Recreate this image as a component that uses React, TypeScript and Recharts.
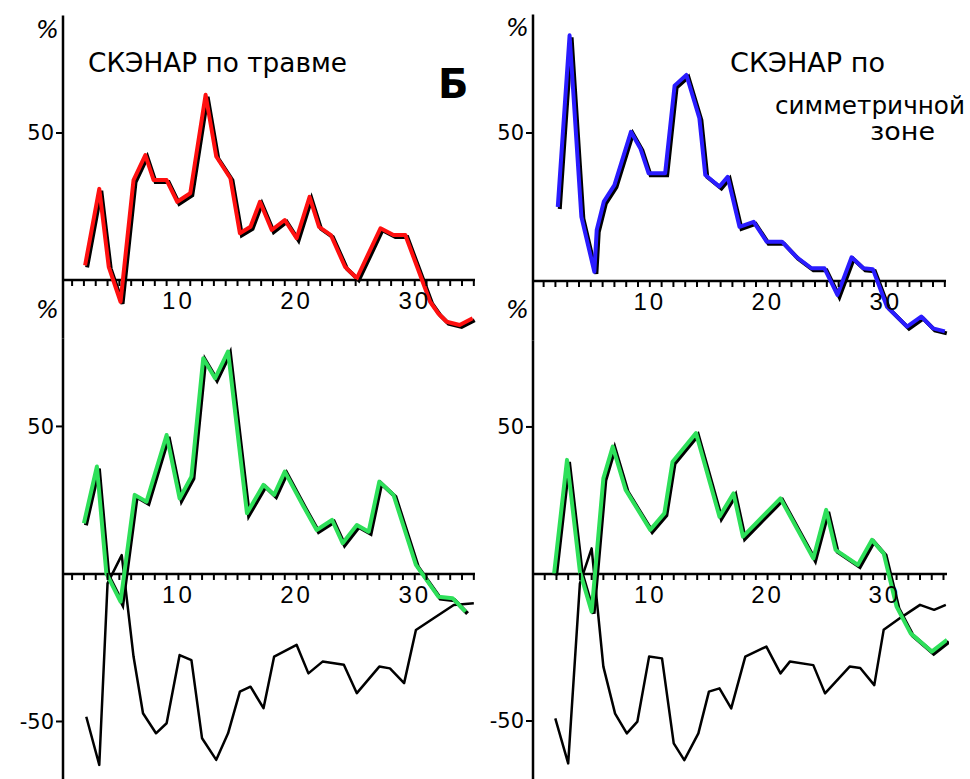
import React from "react";
import { LineChart, Line, XAxis, YAxis, ReferenceLine, ReferenceDot } from "recharts";

// СКЭНАР по травме (top left, red)
const redDays = [2.1, 3.3, 4.1, 5.1, 6.2, 7.2, 7.9, 9.0, 9.9, 11.0, 12.3, 13.2, 14.4, 15.2, 16.1, 16.9, 17.9, 19.0, 20.0, 21.1, 21.9, 22.9, 24.1, 25.1, 27.1, 28.2, 29.2, 30.2, 31.3, 32.0, 32.7, 33.8, 34.9];
const redVals = [5, 31, 4.5, -7.4, 34, 42.5, 34, 34, 26.6, 29.5, 63, 42, 34.6, 15.9, 18.1, 26.6, 17, 20.4, 14.2, 28.3, 18.1, 15.3, 4.5, 0.6, 17.6, 15.3, 15.3, 4.5, -7.4, -11.4, -14.2, -15.3, -13];

// СКЭНАР по симметричной зоне (top right, blue)
const blueDays = [2.2, 3.2, 4.2, 5.3, 5.5, 6.1, 7.0, 8.4, 9.2, 9.9, 11.3, 12.1, 13.1, 14.2, 14.7, 15.9, 16.6, 17.6, 18.8, 19.9, 21.2, 22.4, 23.7, 24.8, 25.9, 27.1, 28.1, 28.9, 30.1, 31.8, 33.0, 34.0, 35.0];
const blueVals = [25, 83, 21.7, 3.1, 17.2, 26.8, 32.4, 50.4, 44.8, 36.4, 36.4, 66, 69.6, 55, 35.8, 31.9, 35.2, 18.3, 20, 13.3, 13.3, 8.2, 4.3, 4.3, -4.7, 8, 4.3, 4, -8.7, -15.4, -12, -16, -17];

// bottom left
const greenLDays = [2.0, 3.1, 3.9, 5.1, 6.3, 7.3, 9.0, 10.1, 11.1, 12.1, 13.1, 14.2, 15.8, 17.2, 18.1, 19.0, 20.6, 21.7, 23.0, 23.9, 25.1, 26.1, 27.0, 28.2, 30.1, 32.0, 33.2, 34.3];
const greenLVals = [17.2, 36.4, 0.2, -9.4, 26.8, 24.5, 47.1, 25.6, 33, 73.1, 66.3, 75.4, 20.6, 30.2, 26.8, 34.7, 22.8, 14.9, 18.3, 10.4, 16.6, 14.3, 31.3, 26.8, 3.1, -7.7, -8.2, -12.8];
const blackLDays = [2.2, 3.3, 4.0, 5.2, 6.2, 7.0, 8.1, 9.0, 10.1, 11.1, 12.0, 13.2, 14.2, 15.2, 16.1, 17.2, 18.1, 20.0, 21.0, 22.2, 24.0, 25.1, 27.0, 27.9, 29.1, 30.1, 31.6, 33.3, 35.0];
const blackLVals = [-48.4, -64.7, -3.2, 6.4, -28, -47.2, -54, -50.6, -27.5, -29.2, -55.7, -63, -54, -39.9, -38.2, -45.5, -28, -24, -33.7, -29.7, -30.8, -40.4, -31.4, -32, -37, -19, -15, -10.5, -9.9];

// bottom right
const greenRDays = [1.8, 2.9, 4.0, 5.0, 6.0, 6.8, 7.9, 10.0, 11.2, 11.9, 13.9, 15.1, 15.9, 17.1, 17.9, 21.1, 23.9, 25.0, 25.8, 27.7, 28.9, 29.9, 31.0, 32.2, 34.0, 35.3];
const greenRVals = [0.2, 38.8, 0.8, -12.8, 32.5, 43.3, 28.6, 15, 20.6, 38.2, 47.9, 30.9, 19.5, 27.4, 12.7, 25.7, 5.3, 21.8, 8.2, 3.1, 11.6, 7, -11.1, -20.2, -26.4, -22.4];
const blackRDays = [1.9, 3.0, 4.0, 5.0, 6.0, 7.0, 8.0, 8.9, 9.9, 11.0, 12.0, 12.9, 14.1, 15.0, 15.9, 16.9, 18.1, 19.9, 21.1, 21.9, 23.9, 24.9, 27.0, 27.9, 29.1, 29.9, 31.3, 33.0, 34.2, 35.2];
const blackRVals = [-49.1, -64.4, -3.2, 8.7, -31.5, -47.5, -54.2, -50.2, -28.1, -28.7, -57.6, -63.3, -54.2, -40, -38.9, -45.7, -28.1, -24.7, -33.8, -29.8, -31, -40.6, -31.5, -32, -37.8, -19, -15, -10.5, -12.2, -10.5];

const tickDays = [1, 2, 3, 4, 5, 6, 7, 8, 9, 10, 11, 12, 13, 14, 15, 16, 17, 18, 19, 20, 21, 22, 23, 24, 25, 26, 27, 28, 29, 30, 31, 32, 33, 34, 35];
const labelDays = [10, 20, 30];

const FONT = "'DejaVu Sans', sans-serif";

const toRows = (days: number[], vals: number[]) => days.map((d, i) => ({ x: d, y: vals[i] }));

function XTick(props: any) {
  const { cx, cy, day } = props;
  return (
    <g>
      <line x1={cx} y1={cy - 1} x2={cx} y2={cy + 6} stroke="#000" strokeWidth={2} />
      {labelDays.includes(day) && (
        <text x={cx} y={cy + 29} textAnchor="middle" fontSize={24} fontFamily="'Liberation Sans Narrow', sans-serif" letterSpacing={3} fill="#000">
          {day}
        </text>
      )}
    </g>
  );
}

interface Series { days: number[]; vals: number[]; color: string; width: number; shadow?: boolean }

function Panel({ left, top, width, height, margin, axisWidth, xDomain, yDomain, yTicks, series }: {
  left: number; top: number; width: number; height: number; axisWidth: number;
  margin: { top: number; right: number; bottom: number; left: number };
  xDomain: [number, number]; yDomain: [number, number]; yTicks: number[]; series: Series[];
}) {
  return (
    <div style={{ position: "absolute", left, top }}>
      <LineChart width={width} height={height} margin={margin}>
        <XAxis type="number" dataKey="x" domain={xDomain} hide allowDataOverflow />
        <YAxis
          type="number"
          domain={yDomain}
          ticks={yTicks}
          interval={0}
          width={axisWidth}
          allowDataOverflow
          axisLine={{ stroke: "#000", strokeWidth: 2.5 }}
          tickLine={{ stroke: "#000", strokeWidth: 2 }}
          tickSize={7}
          tick={{ fill: "#000", fontSize: 21, fontFamily: FONT }}
        />
        <ReferenceLine y={0} stroke="#000" strokeWidth={2.5} />
        {tickDays.map((d) => (
          <ReferenceDot key={d} x={d} y={0} r={0} shape={(p: any) => <XTick {...p} day={d} />} />
        ))}
        {series.map((s, i) =>
          s.shadow ? (
            <Line key={"s" + i} className="shadow" data={toRows(s.days, s.vals)} dataKey="y" type="linear" stroke="#000" strokeWidth={s.width} dot={false} isAnimationActive={false} />
          ) : null
        )}
        {series.map((s, i) => (
          <Line key={"l" + i} data={toRows(s.days, s.vals)} dataKey="y" type="linear" stroke={s.color} strokeWidth={s.width} strokeLinejoin="round" dot={false} isAnimationActive={false} />
        ))}
      </LineChart>
    </div>
  );
}

export default function App() {
  return (
    <div style={{ position: "absolute", left: 0, top: 0, width: 970, height: 779, background: "#fff", overflow: "hidden" }}>
      <style>{`.shadow { transform: translate(2px, 2px); }`}</style>
      <Panel
        left={0} top={0} width={490} height={345} axisWidth={60}
        margin={{ top: 15.4, right: 15, bottom: 6.2, left: 3 }}
        xDomain={[0.23, 35.1]} yDomain={[-20, 90]} yTicks={[50]}
        series={[{ days: redDays, vals: redVals, color: "#ff1010", width: 4, shadow: true }]}
      />
      <Panel
        left={0} top={300} width={490} height={490} axisWidth={60}
        margin={{ top: 38.8, right: 15, bottom: 3.6, left: 3 }}
        xDomain={[0.23, 35.1]} yDomain={[-72, 79.7]} yTicks={[50, -50]}
        series={[
          { days: blackLDays, vals: blackLVals, color: "#000", width: 2.5 },
          { days: greenLDays, vals: greenLVals, color: "#2ee05a", width: 4, shadow: true },
        ]}
      />
      <Panel
        left={480} top={0} width={490} height={345} axisWidth={53}
        margin={{ top: 14.6, right: 24, bottom: 4.8, left: 0 }}
        xDomain={[0.1, 35.1]} yDomain={[-20, 90]} yTicks={[50]}
        series={[{ days: blueDays, vals: blueVals, color: "#2a1cff", width: 4, shadow: true }]}
      />
      <Panel
        left={480} top={300} width={490} height={490} axisWidth={53}
        margin={{ top: 40.2, right: 23, bottom: 4.3, left: 0 }}
        xDomain={[0, 35.3]} yDomain={[-72, 79.5]} yTicks={[50, -50]}
        series={[
          { days: blackRDays, vals: blackRVals, color: "#000", width: 2.5 },
          { days: greenRDays, vals: greenRVals, color: "#2ee05a", width: 4, shadow: true },
        ]}
      />
      <svg width={970} height={779} style={{ position: "absolute", left: 0, top: 0, pointerEvents: "none" }}>
        <g fontFamily={FONT} fill="#000">
          <text x={36} y={38} fontSize={24} fontStyle="italic">%</text>
          <text x={36} y={318} fontSize={24} fontStyle="italic">%</text>
          <text x={506} y={36} fontSize={24} fontStyle="italic">%</text>
          <text x={506} y={318} fontSize={24} fontStyle="italic">%</text>
          <text x={88} y={72} fontSize={26} textLength={259} lengthAdjust="spacingAndGlyphs">СКЭНАР по травме</text>
          <text x={438} y={98} fontSize={40} fontWeight="bold">Б</text>
          <text x={730} y={72} fontSize={26} textLength={155} lengthAdjust="spacingAndGlyphs">СКЭНАР по</text>
          <text x={775} y={114} fontSize={24} textLength={190} lengthAdjust="spacingAndGlyphs">симметричной</text>
          <text x={870} y={140} fontSize={24} textLength={65} lengthAdjust="spacingAndGlyphs">зоне</text>
        </g>
      </svg>
    </div>
  );
}
